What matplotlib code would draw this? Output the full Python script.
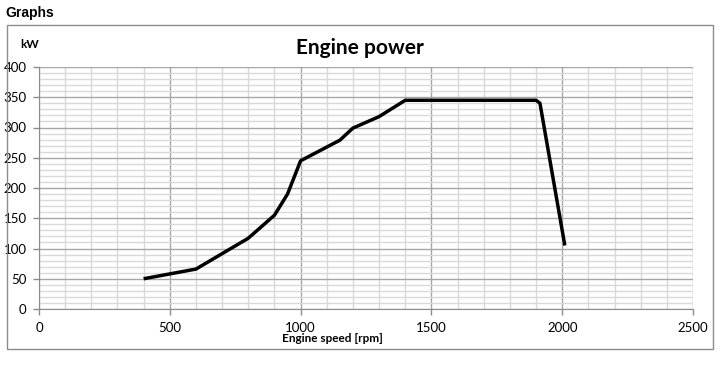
import numpy as np
import matplotlib.pyplot as plt
from matplotlib.patches import Rectangle

# engine speed [rpm] and power [kW]
speed = [400, 600, 800, 900, 950, 1000, 1150, 1200, 1300, 1400, 1900, 1915, 2010]
power = [50, 66, 117, 155, 190, 245, 279, 299, 318, 345, 345, 340, 105]

x_ticks = [0, 500, 1000, 1500, 2000, 2500]
y_ticks = [0, 50, 100, 150, 200, 250, 300, 350, 400]

W, H = 724, 375
fig = plt.figure(figsize=(W / 100, H / 100), dpi=100, facecolor='w')

# outer box round the chart
fig.patches.append(Rectangle((7 / W, 1 - 349 / H), 706 / W, 324 / H,
                             transform=fig.transFigure, fill=False,
                             ec='#8c8c8c', lw=1))
fig.text(5 / W, 1 - 13 / H, 'Graphs', fontsize=10, fontweight='bold',
         family='Liberation Sans', va='center', ha='left')

ax = fig.add_axes([39 / W, 1 - 309 / H, 654 / W, 242 / H])
ax.set_xlim(0, 2500)
ax.set_ylim(0, 400)

# grid: minor every 100 rpm / 10 kW, major every 500 rpm / 50 kW
for v in np.arange(0, 2501, 100):
    major = v % 500 == 0
    ax.axvline(v, color='#a6a6a6' if major else '#d9d9d9', lw=1, zorder=1)
for v in np.arange(0, 401, 10):
    major = v % 50 == 0
    ax.axhline(v, color='#a6a6a6' if major else '#d9d9d9', lw=1, zorder=1)

ax.plot(speed, power, color='black', lw=2.5, zorder=3,
        solid_joinstyle='round', solid_capstyle='butt')

ax.set_xticks(x_ticks)
ax.set_yticks(y_ticks)
ax.tick_params(axis='both', length=4, width=1, color='#8c8c8c',
               labelsize=9.5, pad=5)
for lab in ax.get_xticklabels() + ax.get_yticklabels():
    lab.set_family('Lato')
for s in ('top', 'right'):
    ax.spines[s].set_visible(False)
for s in ('bottom', 'left'):
    ax.spines[s].set_color('#8c8c8c')

fig.text(332 / W, 1 - 338 / H, 'Engine speed [rpm]', fontsize=8.5,
         fontweight='bold', family='Lato', ha='center', va='center')
fig.text(360 / W, 1 - 48 / H, 'Engine power', fontsize=15, fontweight='bold',
         family='Lato', ha='center', va='center')
fig.text(20 / W, 1 - 44 / H, 'kW', fontsize=8.5, fontweight='bold',
         family='Lato', ha='left', va='center')

fig.savefig('out.png', dpi=100)
